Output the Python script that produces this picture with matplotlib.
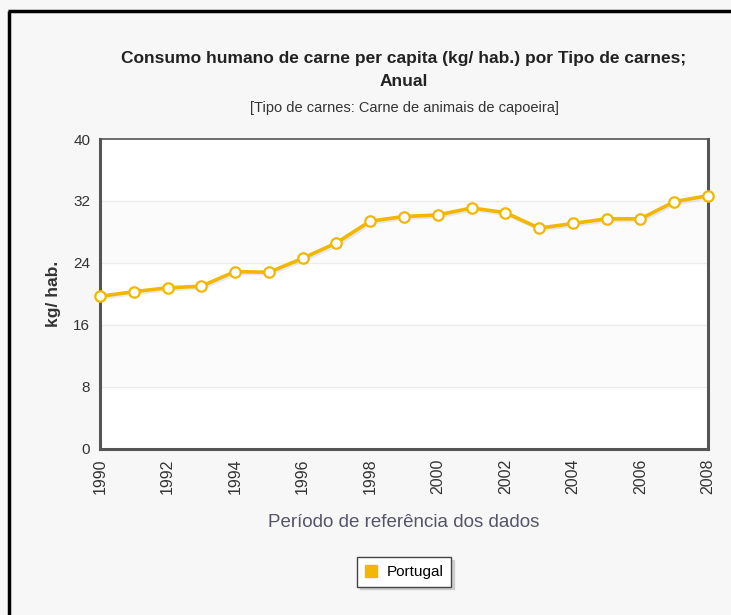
import matplotlib

matplotlib.use("Agg")
import matplotlib.patheffects as pe
import matplotlib.pyplot as plt
from matplotlib.lines import Line2D

# Consumo de carne de animais de capoeira, Portugal (kg/hab.)
years = [1990, 1991, 1992, 1993, 1994, 1995, 1996, 1997, 1998, 1999,
         2000, 2001, 2002, 2003, 2004, 2005, 2006, 2007, 2008]
portugal = [19.7, 20.3, 20.8, 21.0, 22.9, 22.8, 24.6, 26.6, 29.4, 30.0,
            30.2, 31.1, 30.5, 28.5, 29.1, 29.7, 29.7, 31.9, 32.7]
y_ticks = [0, 8, 16, 24, 32, 40]
x_ticks = list(range(1990, 2009, 2))

GOLD = "#f2b705"
BG = "#f7f7f7"
FONT = ["Liberation Sans", "DejaVu Sans"]

fig = plt.figure(figsize=(7.31, 6.15), dpi=100, facecolor=BG)
ax = fig.add_axes([100 / 731, 166 / 615, 608 / 731, 310 / 615])
ax.set_facecolor("white")

# faint alternating bands + grid
for lo in (8, 24):
    ax.axhspan(lo, lo + 8, color="#fbfbfb", zorder=0)
for t in y_ticks[1:-1]:
    ax.axhline(t, color="#ececec", lw=1, zorder=1)

shadow = [pe.SimpleLineShadow(offset=(1.2, -1.2), shadow_color="#aaaaaa", alpha=0.25),
          pe.Normal()]
ax.plot(years, portugal, color=GOLD, lw=2.6, zorder=3, clip_on=False,
        path_effects=shadow)
ax.plot(years, portugal, ls="none", marker="o", ms=7.5, mfc="white", mec=GOLD,
        mew=1.6, zorder=4, clip_on=False)

ax.set_xlim(1990, 2008)
ax.set_ylim(0, 40)
ax.set_yticks(y_ticks)
ax.set_xticks(x_ticks)
ax.tick_params(axis="y", length=0, pad=7, labelsize=11, labelcolor="#333333")
ax.tick_params(axis="x", length=0, pad=7, labelsize=11.5, labelcolor="#333333")
for lab in ax.get_yticklabels() + ax.get_xticklabels():
    lab.set_family(FONT)
for lab in ax.get_xticklabels():
    lab.set_rotation(90)
    lab.set_va("top")

for side in ("left", "right", "bottom"):
    ax.spines[side].set_linewidth(2.2)
    ax.spines[side].set_color("#555555")
ax.spines["top"].set_linewidth(1.2)
ax.spines["top"].set_color("#555555")

ax.set_ylabel("kg/ hab.", fontsize=12.5, fontweight="bold", color="#333333",
              family=FONT, labelpad=9)
ax.set_xlabel("Período de referência dos dados", fontsize=13.5, color="#55556a",
              family=FONT, labelpad=14)

fig.text(404 / 731, 1 - 58 / 615,
         "Consumo humano de carne per capita (kg/ hab.) por Tipo de carnes;",
         ha="center", va="center", fontsize=12.5, fontweight="bold",
         color="#222222", family=FONT)
fig.text(404 / 731, 1 - 81 / 615, "Anual", ha="center", va="center",
         fontsize=12.5, fontweight="bold", color="#222222", family=FONT)
fig.text(404 / 731, 1 - 108 / 615, "[Tipo de carnes: Carne de animais de capoeira]",
         ha="center", va="center", fontsize=10.5, color="#333333", family=FONT)

handle = Line2D([], [], ls="none", marker="s", ms=8, color=GOLD)
leg = fig.legend([handle], ["Portugal"], loc="center",
                 bbox_to_anchor=(404 / 731, 1 - 572 / 615), frameon=True,
                 fancybox=False, shadow={"color": "#bbbbbb", "alpha": 0.6},
                 prop={"family": FONT, "size": 11},
                 handlelength=0.8, handletextpad=0.6, borderpad=0.5)
leg.get_frame().set_edgecolor("#444444")
leg.get_frame().set_linewidth(1.0)

# screenshot frame on the left and top edges
fig.add_artist(Line2D([9 / 731, 9 / 731], [0, 1 - 11 / 615], color="black", lw=2.5,
                      transform=fig.transFigure, solid_capstyle="butt"))
fig.add_artist(Line2D([8 / 731, 1], [1 - 11 / 615, 1 - 11 / 615], color="black", lw=2.5,
                      transform=fig.transFigure, solid_capstyle="butt"))

fig.savefig("out.png", dpi=100, facecolor=BG)
